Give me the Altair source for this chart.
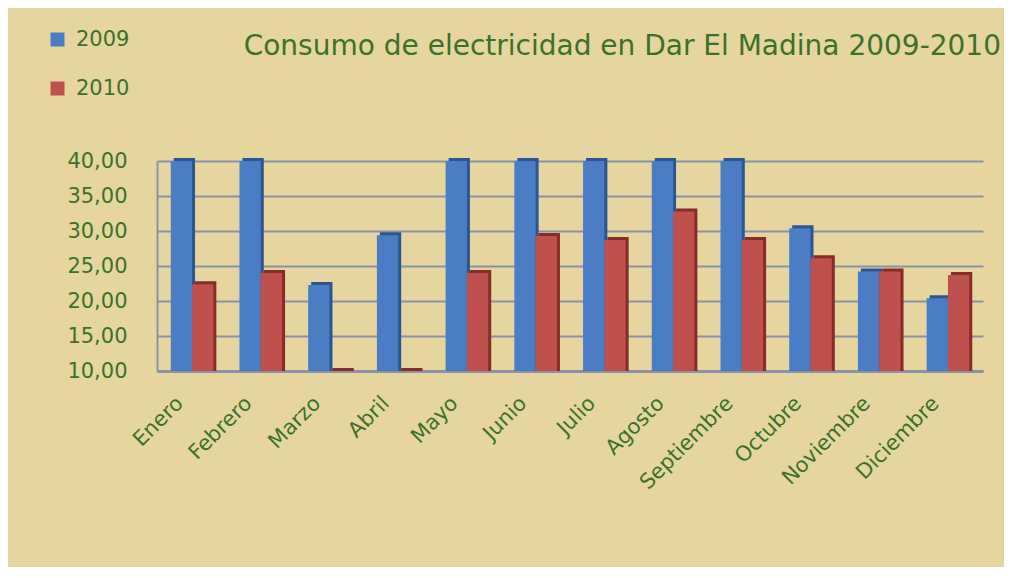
import altair as alt
import pandas as pd

months = ["Enero", "Febrero", "Marzo", "Abril", "Mayo", "Junio", "Julio",
          "Agosto", "Septiembre", "Octubre", "Noviembre", "Diciembre"]
years = ["2009", "2010"]
v2009 = [40.0, 40.0, 22.3, 29.4, 40.0, 40.0, 40.0, 40.0, 40.0, 30.4, 24.2, 20.4]
v2010 = [22.4, 24.0, 10.0, 10.0, 24.0, 29.3, 28.7, 32.8, 28.7, 26.1, 24.2, 23.7]
y_min, y_max = 10, 40
y_ticks = [10, 15, 20, 25, 30, 35, 40]
title_text = "Consumo de electricidad en Dar El Madina 2009-2010"

rows = []
for m, a, b in zip(months, v2009, v2010):
    rows.append({"mes": m, "año": years[0], "valor": a, "base": y_min})
    rows.append({"mes": m, "año": years[1], "valor": b, "base": y_min})
df = pd.DataFrame(rows)

GREEN = "#3b722b"
GRID = "#8a93a6"
BG = "#e7d5a0"
FONT = "DejaVu Sans"
BLUE, RED = "#4a7dc4", "#c0504d"
BLUE_D, RED_D = "#2c5690", "#862c2a"

W, H = 826, 210
P_INNER, P_OUTER = 0.38, 0.2
step = W / (len(months) - P_INNER + 2 * P_OUTER)
sub_w = step * (1 - P_INNER) / 2
DEPTH = 3

x_enc = alt.X("mes:N", sort=months, title=None,
              scale=alt.Scale(paddingInner=P_INNER, paddingOuter=P_OUTER),
              axis=alt.Axis(labelAngle=-45, labelAlign="right", labelBaseline="middle",
                            labelFontSize=21, labelColor=GREEN, labelFont=FONT,
                            labelPadding=29, labelOffset=-12, ticks=False,
                            domainColor=GRID, domainWidth=3, labelOverlap=False))
y_enc = alt.Y("valor:Q", title=None,
              scale=alt.Scale(domain=[y_min, y_max], nice=False, zero=False),
              axis=alt.Axis(values=y_ticks,
                            labelExpr="replace(format(datum.value, '.2f'), '.', ',')",
                            labelFontSize=21, labelColor=GREEN, labelFont=FONT,
                            labelPadding=30, ticks=False, domainColor=GRID, domainWidth=2,
                            grid=True, gridColor=GRID, gridWidth=2.2, gridOpacity=1))

color_enc = alt.Color("año:N", scale=alt.Scale(domain=years, range=[BLUE, RED]),
                      legend=alt.Legend(title=None, orient="none", legendX=-110, legendY=-132,
                                        symbolType="square", symbolSize=196,
                                        symbolStrokeWidth=0, labelFontSize=21,
                                        labelColor=GREEN, labelFont=FONT, rowPadding=27,
                                        labelOffset=8, padding=0))

base = alt.Chart(df)
layers = []
for yr, sign, dark in [(years[0], -1, BLUE_D), (years[1], 1, RED_D)]:
    sub = base.transform_filter(alt.datum["año"] == yr)
    layers.append(sub.mark_bar(width=sub_w, xOffset=sign * sub_w / 2 + DEPTH,
                               yOffset=-DEPTH, color=dark)
                  .encode(x=x_enc, y=y_enc, y2=alt.Y2("base:Q")))
for yr, sign in [(years[0], -1), (years[1], 1)]:
    sub = base.transform_filter(alt.datum["año"] == yr)
    layers.append(sub.mark_bar(width=sub_w, xOffset=sign * sub_w / 2)
                  .encode(x=x_enc, y=y_enc, y2=alt.Y2("base:Q"), color=color_enc))

title_layer = alt.Chart(pd.DataFrame({"t": [title_text]})).mark_text(
    align="right", baseline="alphabetic", fontSize=28, color=GREEN, font=FONT
).encode(text="t:N", x=alt.value(W + 18), y=alt.value(-106))
layers.append(title_layer)

chart = alt.layer(*layers).properties(
    width=W, height=H,
    padding={"left": 149, "top": 153, "right": 21, "bottom": 196},
    autosize=alt.AutoSizeParams(type="none"),
    background=BG,
).configure_view(stroke=None)

chart.save("out.html", embed_options={"renderer": "svg", "actions": False})
